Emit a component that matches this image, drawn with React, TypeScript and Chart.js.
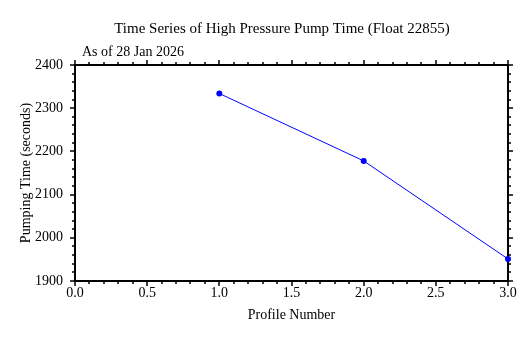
import React, { useEffect, useRef } from "react";
import { Chart, registerables } from "chart.js";

Chart.register(...registerables);

const titleText = "Time Series of High Pressure Pump Time (Float 22855)";
const subtitleText = "As of 28 Jan 2026";
const xAxisLabel = "Profile Number";
const yAxisLabel = "Pumping Time (seconds)";

const profileNumbers = [1, 2, 3];
const pumpTimes = [2334, 2178, 1951];

const xRange = [0, 3];
const xMajorStep = 0.5;
const xMinorStep = 0.1;
const yRange = [1900, 2400];
const yMajorStep = 100;
const yMinorStep = 20;

const FONT = "'Liberation Serif', 'Times New Roman', serif";

const framePlugin = {
  id: "frame",
  beforeDatasetsDraw(chart: any) {
    const { ctx, chartArea } = chart;
    const { left, right, top, bottom } = chartArea;
    const xs = chart.scales.x;
    const ys = chart.scales.y;
    ctx.save();
    ctx.strokeStyle = "#000";
    ctx.lineWidth = 2;
    ctx.strokeRect(left, top, right - left, bottom - top);
    ctx.lineWidth = 1.5;
    const major = 5;
    const minor = 3;
    ctx.beginPath();
    const nx = Math.round((xRange[1] - xRange[0]) / xMinorStep);
    const perX = Math.round(xMajorStep / xMinorStep);
    for (let i = 0; i <= nx; i++) {
      const v = xRange[0] + i * xMinorStep;
      const px = Math.round(xs.getPixelForValue(v));
      const len = i % perX === 0 ? major : minor;
      ctx.moveTo(px, bottom);
      ctx.lineTo(px, bottom + len);
      ctx.moveTo(px, top);
      ctx.lineTo(px, top - len);
    }
    const ny = Math.round((yRange[1] - yRange[0]) / yMinorStep);
    const perY = Math.round(yMajorStep / yMinorStep);
    for (let i = 0; i <= ny; i++) {
      const v = yRange[0] + i * yMinorStep;
      const py = Math.round(ys.getPixelForValue(v));
      const len = i % perY === 0 ? major : minor;
      ctx.moveTo(left, py);
      ctx.lineTo(left - len, py);
      ctx.moveTo(right, py);
      ctx.lineTo(right + len, py);
    }
    ctx.stroke();
    ctx.restore();
  },
  afterDraw(chart: any) {
    const { ctx } = chart;
    ctx.save();
    ctx.fillStyle = "#000";
    ctx.textBaseline = "alphabetic";
    ctx.font = `15px ${FONT}`;
    ctx.textAlign = "center";
    ctx.fillText(titleText, 282, 33);
    ctx.font = `14px ${FONT}`;
    ctx.textAlign = "left";
    ctx.fillText(subtitleText, 82, 55.5);
    ctx.restore();
  },
};

export default function App() {
  const ref = useRef<HTMLCanvasElement>(null);
  useEffect(() => {
    if (!ref.current) return;
    const chart = new Chart(ref.current, {
      type: "scatter",
      data: {
        datasets: [
          {
            data: profileNumbers.map((x, i) => ({ x, y: pumpTimes[i] })),
            showLine: true,
            borderColor: "#0000ff",
            backgroundColor: "#0000ff",
            borderWidth: 1,
            pointRadius: 3,
            pointBorderWidth: 0,
            pointStyle: "circle",
            clip: false,
          } as any,
        ],
      },
      options: {
        animation: false,
        responsive: false,
        devicePixelRatio: 1,
        layout: { padding: { top: 65, left: 0, right: 24, bottom: 0 } },
        plugins: {
          legend: { display: false },
          tooltip: { enabled: false },
          title: { display: false },
        },
        scales: {
          x: {
            type: "linear",
            min: xRange[0],
            max: xRange[1],
            grid: { display: false, drawTicks: false },
            border: { display: false },
            ticks: {
              stepSize: xMajorStep,
              padding: 4,
              color: "#000",
              font: { family: FONT, size: 14 },
              callback: (v: any) => Number(v).toFixed(1),
              maxRotation: 0,
            },
            title: {
              display: true,
              text: xAxisLabel,
              color: "#000",
              font: { family: FONT, size: 14 },
              padding: { top: 0, bottom: 14.5 },
            },
            afterFit: (s: any) => {
              s.height = 57;
            },
          },
          y: {
            type: "linear",
            min: yRange[0],
            max: yRange[1],
            grid: { display: false, drawTicks: false },
            border: { display: false },
            ticks: {
              stepSize: yMajorStep,
              padding: 12,
              color: "#000",
              font: { family: FONT, size: 14 },
              callback: (v: any) => String(v),
            },
            title: {
              display: true,
              text: yAxisLabel,
              color: "#000",
              font: { family: FONT, size: 14 },
              padding: { top: 17.5, bottom: 0 },
            },
            afterFit: (s: any) => {
              s.width = 75;
            },
          },
        },
      },
      plugins: [framePlugin],
    });
    return () => chart.destroy();
  }, []);
  return (
    <div style={{ position: "absolute", left: 0, top: 0, width: 532, height: 338, background: "#fff" }}>
      <canvas ref={ref} width={532} height={338} />
    </div>
  );
}
